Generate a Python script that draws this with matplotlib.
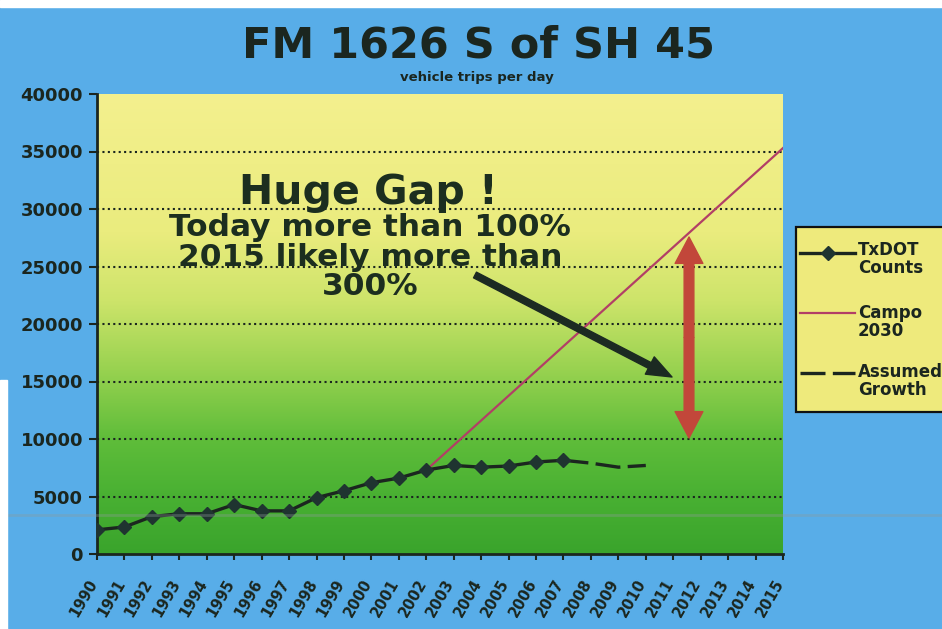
import numpy as np
import matplotlib
matplotlib.use("Agg")
import matplotlib.pyplot as plt
from matplotlib.colors import LinearSegmentedColormap
from matplotlib.lines import Line2D
from matplotlib.patches import Rectangle, FancyArrowPatch
import matplotlib.transforms as mtransforms

# ---------------- data ----------------
txdot_years = [1990, 1991, 1992, 1993, 1994, 1995, 1996, 1997, 1998, 1999,
               2000, 2001, 2002, 2003, 2004, 2005, 2006, 2007]
txdot_counts = [2100, 2350, 3250, 3500, 3500, 4300, 3750, 3750, 4900, 5500,
                6200, 6600, 7300, 7700, 7550, 7650, 8000, 8150]
campo_years = [2002, 2015]
campo_values = [7300, 35300]
assumed_years = [2007, 2008, 2009, 2010]
assumed_values = [8150, 7900, 7550, 7700]
axis_years = list(range(1990, 2016))
y_ticks = [0, 5000, 10000, 15000, 20000, 25000, 30000, 35000, 40000]

title = "FM 1626 S of SH 45"
subtitle = "vehicle trips per day"
legend_labels = ["TxDOT\nCounts", "Campo\n2030", "Assumed\nGrowth"]
note_lines = ["Huge Gap !", "Today more than 100%", "2015 likely more than", "300%"]

# ---------------- style ----------------
BLUE = "#58ade8"
DARK = "#1b261f"
W, H = 942, 629

fig = plt.figure(figsize=(W / 100, H / 100), dpi=100)
fig.patch.set_facecolor(BLUE)

ax = fig.add_axes([97 / W, 75 / H, 686 / W, 460 / H])
ax.set_facecolor("none")

grad_cmap = LinearSegmentedColormap.from_list(
    "yg",
    [(0.0, "#3aa42c"), (0.12, "#48b032"), (0.25, "#5fbd3a"), (0.40, "#98d250"),
     (0.55, "#cde46a"), (0.70, "#eaec7e"), (1.0, "#f4f08e")])
ax.imshow(np.linspace(0, 1, 256).reshape(-1, 1), extent=[1990, 2015, 0, 40000],
          aspect="auto", cmap=grad_cmap, origin="lower", zorder=0)

ax.set_xlim(1990, 2015)
ax.set_ylim(0, 40000)

# grid
ax.set_yticks(y_ticks)
ax.set_yticklabels([str(v) for v in y_ticks])
ax.yaxis.grid(True, linestyle=(0, (1.0, 1.6)), color=DARK, linewidth=1.5)
ax.set_axisbelow(True)
ygl = ax.get_ygridlines()
ygl[0].set_visible(False)
ygl[-1].set_visible(False)

# series
tx_style = dict(color=DARK, lw=2.4, marker="D", markersize=7.5,
                markerfacecolor="#1f3430", markeredgecolor="#1f3430")
campo_style = dict(color="#b23f66", lw=1.6)
ass_style = dict(color=DARK, lw=2.4, linestyle=(0, (7.5, 2.2)))

ax.plot(txdot_years, txdot_counts, zorder=5, **tx_style)
ax.plot(campo_years, campo_values, zorder=4, **campo_style)
ax.plot(assumed_years, assumed_values, zorder=4, **ass_style)

# spines / ticks
for s in ["top", "right"]:
    ax.spines[s].set_visible(False)
for s in ["left", "bottom"]:
    ax.spines[s].set_color(DARK)
    ax.spines[s].set_linewidth(2)

ax.tick_params(axis="y", direction="out", length=6, width=1.5, color=DARK,
               pad=4, labelsize=13, labelcolor=DARK)
for t in ax.get_yticklabels():
    t.set_fontweight("bold")

ax.set_xticks(axis_years)
ax.set_xticklabels([str(y) for y in axis_years], rotation=60, ha="right",
                   va="center", rotation_mode="anchor")
ax.tick_params(axis="x", direction="out", length=4, width=1.5, color=DARK,
               pad=15, labelsize=10.5, labelcolor=DARK)
offset = mtransforms.ScaledTranslation(-3 / 100, 0, fig.dpi_scale_trans)
for t in ax.get_xticklabels():
    t.set_fontweight("bold")
    t.set_transform(t.get_transform() + offset)

# arrows
def px2data(px, py):
    return 1990 + (px - 97) / 686 * 25, (554 - py) / 460 * 40000

bx0, by0 = px2data(475, 275)
bx1, by1 = px2data(672, 377)
ax.add_patch(FancyArrowPatch((bx0, by0), (bx1, by1),
             arrowstyle="simple,head_width=14,head_length=18,tail_width=4.6",
             mutation_scale=1, color="#1c2a22", shrinkA=0, shrinkB=0, zorder=6))

rx, ry_top = px2data(689, 237)
_, ry_bot = px2data(689, 438)
ry_mid = (ry_top + ry_bot) / 2
for yend in (ry_top, ry_bot):
    ax.add_patch(FancyArrowPatch((rx, ry_mid), (rx, yend),
                 arrowstyle="simple,head_width=20,head_length=19,tail_width=7",
                 mutation_scale=1, color="#c2473a", shrinkA=0, shrinkB=0, zorder=6))

# titles
fig.text(479 / W, 1 - 45 / H, title, ha="center", va="center", fontsize=31,
         fontweight="bold", color=DARK)
fig.text(477 / W, 1 - 78 / H, subtitle, ha="center", va="center", fontsize=9.5,
         fontweight="bold", color=DARK)

# annotation text
NOTE = "#1c2e1f"
fig.text(368 / W, 1 - 193 / H, note_lines[0], ha="center", va="center",
         fontsize=29.5, fontweight="bold", color=NOTE)
for (yy, txt) in zip([227, 257, 286], note_lines[1:]):
    fig.text(370 / W, 1 - yy / H, txt, ha="center", va="center",
             fontsize=22.5, fontweight="bold", color=NOTE)

# legend (drawn in figure pixel positions, clipped by the right edge like the original)
def fx(px):
    return px / W

def fy(py):
    return 1 - py / H

fig.add_artist(Rectangle((fx(796), fy(412)), fx(960) - fx(796), fy(227) - fy(412),
                         transform=fig.transFigure, facecolor="#eeea7c",
                         edgecolor="#111111", lw=1.6, zorder=3))
leg_styles = [tx_style, campo_style, ass_style]
handle_y = [253, 313, 373]
text_y = [259, 322, 381]
for style, hy, ty, lab in zip(leg_styles, handle_y, text_y, legend_labels):
    st = dict(style)
    marker = st.pop("marker", None)
    ms = st.pop("markersize", None)
    mfc = st.pop("markerfacecolor", None)
    mec = st.pop("markeredgecolor", None)
    fig.add_artist(Line2D([fx(800), fx(855)], [fy(hy), fy(hy)],
                          transform=fig.transFigure, zorder=4, **st))
    if marker:
        fig.add_artist(Line2D([fx(828)], [fy(hy)], transform=fig.transFigure,
                              marker=marker, markersize=ms, markerfacecolor=mfc,
                              markeredgecolor=mec, linestyle="none", zorder=5))
    fig.text(fx(858), fy(ty), lab, ha="left", va="center", fontsize=12,
             fontweight="bold", color=DARK, linespacing=1.0, zorder=5)

# scan artefacts: white borders and gray streak
fig.add_artist(Rectangle((0, 1 - 7 / H), 1, 7 / H, transform=fig.transFigure,
                         color="white", zorder=10))
fig.add_artist(Rectangle((0, 0), 7 / W, 1 - 380 / H, transform=fig.transFigure,
                         color="white", zorder=10))
fig.add_artist(Line2D([0, 1], [1 - 515 / H, 1 - 515 / H], transform=fig.transFigure,
                      color="#8e9a9a", lw=2, alpha=0.35, zorder=9))

fig.savefig("out.png", dpi=100, facecolor=fig.get_facecolor())
